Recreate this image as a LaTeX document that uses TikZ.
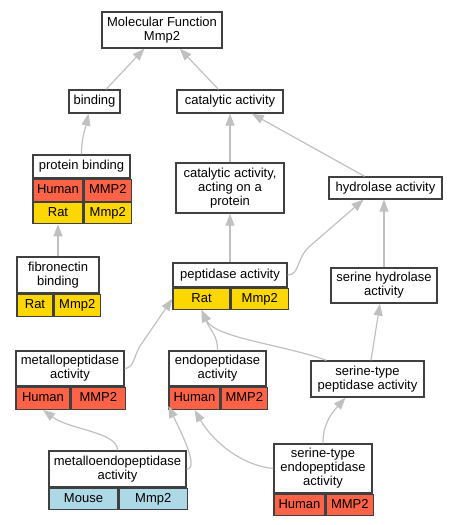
\documentclass[tikz,border=0pt]{standalone}
\usepackage{fontspec}
\setmainfont{Liberation Sans}
\usetikzlibrary{calc, arrows.meta}
\definecolor{human}{HTML}{FF6347}
\definecolor{rat}{HTML}{FFD700}
\definecolor{mouse}{HTML}{ADD8E6}
\definecolor{edgegray}{HTML}{C0C0C0}
\definecolor{boxgray}{HTML}{404040}

\begin{document}
\begin{tikzpicture}[x=1pt, y=-1pt,
    term/.style={draw=boxgray, line width=1.3pt, fill=white, rectangle, inner sep=0pt,
      align=center, font=\fontsize{13}{14}\selectfont},
    cell/.style={term, anchor=north west, text height=9.5pt, text depth=2.8pt},
    isa/.style={draw=edgegray, line width=1.2pt, -{Triangle[length=12pt, width=9pt]}}]
    \useasboundingbox (0,0) rectangle (457,525);

    % Top terms
    \node[term, minimum width=120pt, minimum height=36pt] (mf) at (162,30) {Molecular Function\\Mmp2};
    \node[term, minimum width=51pt, minimum height=23pt] (bind) at (94.5,101.5) {binding};
    \node[term, minimum width=106pt, minimum height=23pt] (cat) at (230,101.5) {catalytic activity};

    % protein binding
    \node[term, minimum width=97pt, minimum height=23pt] (pbind) at (81.5,166.5) {protein binding};
    \node[cell, fill=human, minimum width=50pt, minimum height=22pt] (pbindH) at (pbind.south west) {Human};
    \node[cell, fill=human, minimum width=47pt, minimum height=22pt] (pbindHg) at (pbindH.north east) {MMP2};
    \node[cell, fill=rat, minimum width=50pt, minimum height=21pt] (pbindR) at (pbindH.south west) {Rat};
    \node[cell, fill=rat, minimum width=47pt, minimum height=21pt] (pbindRg) at (pbindR.north east) {Mmp2};

    % Middle terms
    \node[term, minimum width=108pt, minimum height=50pt] (catprot) at (230,188) {catalytic activity,\\acting on a\\protein};
    \node[term, minimum width=113pt, minimum height=22pt] (hydro) at (385.5,188) {hydrolase activity};

    % fibronectin binding
    \node[term, minimum width=82pt, minimum height=36pt] (fibro) at (58,275) {fibronectin\\binding};
    \node[cell, fill=rat, minimum width=36pt, minimum height=22pt] (fibroR) at (fibro.south west) {Rat};
    \node[cell, fill=rat, minimum width=46pt, minimum height=22pt] (fibroRg) at (fibroR.north east) {Mmp2};

    % peptidase activity
    \node[term, minimum width=114pt, minimum height=24pt] (pept) at (230,275) {peptidase activity};
    \node[cell, fill=rat, minimum width=57pt, minimum height=21pt] (peptR) at (pept.south west) {Rat};
    \node[cell, fill=rat, minimum width=57pt, minimum height=21pt] (peptRg) at (peptR.north east) {Mmp2};

    \node[term, minimum width=106pt, minimum height=35pt] (serhyd) at (384,285.5) {serine hydrolase\\activity};

    % metallopeptidase activity
    \node[term, minimum width=108pt, minimum height=35pt] (metpep) at (70,368.5) {metallopeptidase\\activity};
    \node[cell, fill=human, minimum width=54pt, minimum height=22pt] (metpepH) at (metpep.south west) {Human};
    \node[cell, fill=human, minimum width=54pt, minimum height=22pt] (metpepHg) at (metpepH.north east) {MMP2};

    % endopeptidase activity
    \node[term, minimum width=97pt, minimum height=35pt] (endo) at (217.5,368.5) {endopeptidase\\activity};
    \node[cell, fill=human, minimum width=51pt, minimum height=22pt] (endoH) at (endo.south west) {Human};
    \node[cell, fill=human, minimum width=46pt, minimum height=22pt] (endoHg) at (endoH.north east) {MMP2};

    \node[term, minimum width=113pt, minimum height=36pt] (sertp) at (367.5,379) {serine-type\\peptidase activity};

    % metalloendopeptidase activity
    \node[term, minimum width=137pt, minimum height=36pt] (metendo) at (117.5,469) {metalloendopeptidase\\activity};
    \node[cell, fill=mouse, minimum width=69pt, minimum height=21pt] (metendoM) at (metendo.south west) {Mouse};
    \node[cell, fill=mouse, minimum width=68pt, minimum height=21pt] (metendoMg) at (metendoM.north east) {Mmp2};

    % serine-type endopeptidase activity
    \node[term, minimum width=98pt, minimum height=49pt] (serendo) at (323,468.5) {serine-type\\endopeptidase\\activity};
    \node[cell, fill=human, minimum width=51pt, minimum height=21pt] (serendoH) at (serendo.south west) {Human};
    \node[cell, fill=human, minimum width=47pt, minimum height=21pt] (serendoHg) at (serendoH.north east) {MMP2};

    % is_a edges
    \draw[isa] (bind) -- (mf);
    \draw[isa] (cat) -- (mf);
    \draw[isa] (pbind.north) .. controls (81.5,138) and (85,130) .. ($(bind.south)+(-6,0)$);
    \draw[isa] (catprot.north) -- (cat.south);
    \draw[isa] (hydro) -- (cat);
    \draw[isa] (fibro.north) -- (pbindR.south);
    \draw[isa] (pept.north) -- (catprot.south);
    \draw[isa] (pept.east) .. controls (300,275) and (296,258) .. (310,246) -- ($(hydro.south)+(-22,0)$);
    \draw[isa] (serhyd.north) -- (serhyd.north |- hydro.south);
    \draw[isa] (metpep.east) .. controls (134,368) and (134,356) .. (140,346) -- (peptR.west);
    \draw[isa] (endo.north) .. controls (218,336) and (210,330) .. (peptR.south);
    \draw[isa] ($(sertp.north west)+(16,0)$) .. controls (285,345) and (215,338) .. (peptR.south);
    \draw[isa] ($(sertp.north)+(3.5,0)$) -- ($(serhyd.south)+(-4,0)$);
    \draw[isa] (metendo.north) .. controls (118,432) and (70,430) .. (metpepH.south);
    \draw[isa] (metendo.east) .. controls (200,469) and (180,430) .. ($(endoH.south west)+(0,-4)$);
    \draw[isa] (serendo.west) .. controls (245,466) and (215,445) .. (endoH.south);
    \draw[isa] (serendo.north) .. controls (323,425) and (330,415) .. ($(sertp.south)+(-22,0)$);
\end{tikzpicture}
\end{document}
